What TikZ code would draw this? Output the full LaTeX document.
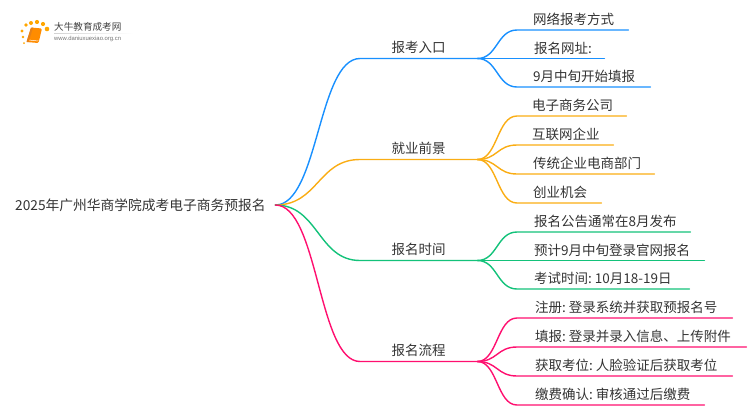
\documentclass[tikz,border=0pt]{standalone}
\usepackage{fontspec}
\setmainfont{Noto Sans CJK SC}
\newfontfamily\latinlogo{Liberation Sans}
\definecolor{cblue}{HTML}{1890FF}
\definecolor{corange}{HTML}{FAAD14}
\definecolor{cgreen}{HTML}{13C27A}
\definecolor{cpink}{HTML}{FF0F6F}
\definecolor{ctext}{HTML}{333333}
\tikzset{
  leafnode/.style={anchor=south west,inner sep=0pt,text height=13pt,text depth=5pt,align=left,text=ctext,font=\fontsize{13.5}{16}\selectfont},
  mainnode/.style={anchor=south west,inner sep=0pt,text height=14pt,text depth=6pt,align=center,text=ctext,font=\fontsize{13.5}{16}\selectfont,text width=117pt},
  rootnode/.style={anchor=west,inner sep=0pt,align=left,text=ctext,font=\fontsize{13.75}{16}\selectfont,text width=260pt},
  conn/.style={line width=1.4pt,line cap=round},
}
\newcommand{\ind}[1]{\hspace*{#1pt}}
\newcommand{\gap}{:\hspace{3pt}}
\begin{document}
\begin{tikzpicture}[x=1pt,y=-1pt]
\useasboundingbox (0,0) rectangle (750,410);
% logo
\foreach \px/\py/\pr in {22/31/1.6,26/25/1.8,31/23/2,37/22/2.1,43/24/2.1,47/29/2.3,23/37/1.3,24/43/1}
  \fill[orange!70!yellow] (\px,\py) circle (\pr);
\fill[orange!90!yellow,rounded corners=1.2pt] (31,27.5) -- (42,28.5) -- (38.5,43) -- (26.5,42) -- cycle;
\draw[white,line width=0.5pt] (28.5,40) -- (38.5,41);
\fill[orange!60!brown] (31,27.5) -- (33,27.7) -- (28.5,42.2) -- (26.5,42) -- cycle;
\shade[left color=gray!35,right color=white] (54,33) rectangle (133,33.6);
\node[inner sep=0pt,anchor=west,text=black!75,font=\fontsize{9.6}{11}\selectfont] (logotitle) at (54,27) {大牛教育成考网};
\node[inner sep=0pt,anchor=west,text=black!55,font=\latinlogo\fontsize{5.9}{7}\selectfont] (logourl) at (54,38.5) {www.daniuxuexiao.org.cn};
% root
\node[rootnode] (root) at (15,205) {2025年广州华商学院成考电子商务预报名};
% main branches
\node[mainnode,text width=117pt] (m1) at (360,58.5) {报考入口};
\node[mainnode] (m2) at (360,159.5) {就业前景};
\node[mainnode] (m3) at (360,260.5) {报名时间};
\node[mainnode] (m4) at (360,361.5) {报名流程};
% leaves
\node[leafnode,text width=111pt] (a1) at (517,30) {\ind{16}网络报考方式};
\node[leafnode,text width=87pt] (a2) at (517,58.5) {\ind{17}报名网址:};
\node[leafnode,text width=133pt] (a3) at (517,87) {\ind{16}9月中旬开始填报};
\node[leafnode,text width=109pt] (b1) at (517,116) {\ind{15}电子商务公司};
\node[leafnode,text width=96pt] (b2) at (517,145) {\ind{15}互联网企业};
\node[leafnode,text width=137pt] (b3) at (517,174) {\ind{16}传统企业电商部门};
\node[leafnode,text width=84pt] (b4) at (517,203) {\ind{16}创业机会};
\node[leafnode,text width=173pt] (c1) at (517,232) {\ind{17}报名公告通常在8月发布};
\node[leafnode,text width=187pt] (c2) at (517,260.5) {\ind{17}预计9月中旬登录官网报名};
\node[leafnode,text width=172pt] (c3) at (517,289) {\ind{17}考试时间\gap 10月18-19日};
\node[leafnode,text width=215pt] (d1) at (517,318) {\ind{18}注册\gap 登录系统并获取预报名号};
\node[leafnode,text width=229pt] (d2) at (517,347) {\ind{18}填报\gap 登录并录入信息、上传附件};
\node[leafnode,text width=215pt] (d3) at (517,376) {\ind{18}获取考位\gap 人脸验证后获取考位};
\node[leafnode,text width=187pt] (d4) at (517,405) {\ind{18}缴费确认\gap 审核通过后缴费};
% connectors
\foreach \m/\col/\leaves in {m1/cblue/{a1,a2,a3},m2/corange/{b1,b2,b3,b4},m3/cgreen/{c1,c2,c3},m4/cpink/{d1,d2,d3,d4}}{
  \draw[conn,\col] (root.east) .. controls ([xshift=43pt]root.east) and ([xshift=-42pt]\m.south west) .. (\m.south west) -- (\m.south east);
  \foreach \l in \leaves
    \draw[conn,\col] (\m.south east) .. controls ([xshift=20pt]\m.south east) and ([xshift=-20pt]\l.south west) .. (\l.south west) -- (\l.south east);
}
\end{tikzpicture}
\end{document}
